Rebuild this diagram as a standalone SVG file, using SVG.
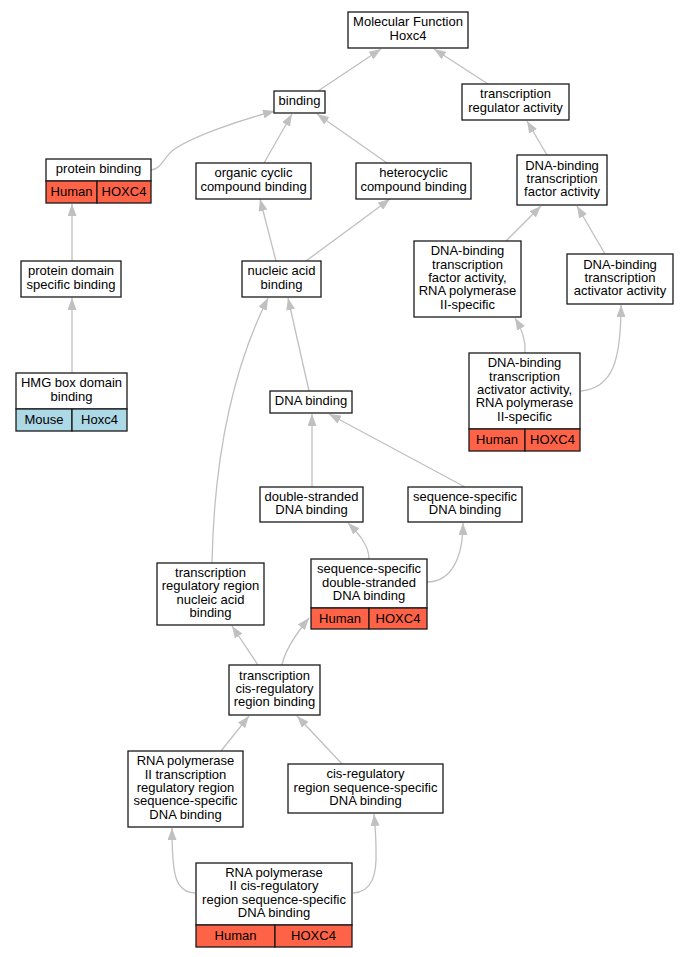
<svg xmlns="http://www.w3.org/2000/svg" width="689" height="957" viewBox="0 0 689 957">
<style>
.box{fill:#fff;stroke:#1a1a1a;stroke-width:1.3}
.hu{fill:#ff6347;stroke:#1a1a1a;stroke-width:1.3}
.mo{fill:#add8e6;stroke:#1a1a1a;stroke-width:1.3}
text{font-family:"Liberation Sans",Arial,sans-serif;font-size:13px;fill:#000;text-anchor:middle}
.e{fill:none;stroke:#c0c0c0;stroke-width:1.3;marker-end:url(#ah)}
</style>
<defs>
<marker id="ah" viewBox="0 0 12 9" refX="12" refY="4.5" markerWidth="12" markerHeight="9" markerUnits="userSpaceOnUse" orient="auto">
<path d="M0,0 L12,4.5 L0,9 z" fill="#c0c0c0"/>
</marker>
</defs>
<g id="connectors">
<path class="e" d="M318,91 L381,49"/>
<path class="e" d="M488,84 L434,49"/>
<path class="e" d="M151,170 C160,170 164,158 172,151 C190,137 240,120 275,111"/>
<path class="e" d="M264,163 L292,114"/>
<path class="e" d="M387,163 L317,114"/>
<path class="e" d="M547,155 L527,121"/>
<path class="e" d="M72,261 L72,204"/>
<path class="e" d="M276,261 L260,199"/>
<path class="e" d="M306,261 L390,199"/>
<path class="e" d="M506,241 L541,206"/>
<path class="e" d="M605,254 L577,206"/>
<path class="e" d="M72,373 L72,298"/>
<path class="e" d="M309,391 L288,298"/>
<path class="e" d="M212,563 C214,460 232,370 268,298"/>
<path class="e" d="M525,353 C526,340 522,330 515,318"/>
<path class="e" d="M581,391 C613,388 621,360 621,305"/>
<path class="e" d="M312,487 L312,414"/>
<path class="e" d="M465,487 L329,414"/>
<path class="e" d="M369,559 C369,545 358,533 348,523"/>
<path class="e" d="M427,582 C450,582 463,560 463,523"/>
<path class="e" d="M258,665 L232,626"/>
<path class="e" d="M282,665 C285,650 295,635 309,618"/>
<path class="e" d="M221,751 L249,716"/>
<path class="e" d="M342,764 L297,716"/>
<path class="e" d="M195,893 C175,892 172,875 172,828"/>
<path class="e" d="M353,893 C372,892 377,875 376,850 C376,835 375,825 374,814"/>
</g>
<g id="n_mf"><rect class="box" x="348" y="12" width="120" height="36"/><text x="408" y="26.4">Molecular Function</text><text x="408" y="39.7">Hoxc4</text></g>
<g id="n_binding"><rect class="box" x="274" y="91" width="51" height="22"/><text x="299.5" y="105">binding</text></g>
<g id="n_tra"><rect class="box" x="462" y="84" width="107" height="36"/><text x="515.5" y="98.4">transcription</text><text x="515.5" y="111.7">regulator activity</text></g>
<g id="n_pb"><rect class="box" x="46" y="159" width="105" height="22"/><rect class="hu" x="46" y="181" width="51" height="22"/><rect class="hu" x="97" y="181" width="54" height="22"/><text x="98.5" y="173">protein binding</text><text x="71.5" y="196">Human</text><text x="124" y="196">HOXC4</text></g>
<g id="n_occ"><rect class="box" x="196" y="163" width="115" height="36"/><text x="253.5" y="177.4">organic cyclic</text><text x="253.5" y="190.7">compound binding</text></g>
<g id="n_hcb"><rect class="box" x="356" y="163" width="115" height="36"/><text x="413.5" y="177.4">heterocyclic</text><text x="413.5" y="190.7">compound binding</text></g>
<g id="n_dbtfa"><rect class="box" x="517" y="155" width="90" height="50"/><text x="562" y="169.7">DNA-binding</text><text x="562" y="183">transcription</text><text x="562" y="196.3">factor activity</text></g>
<g id="n_pdsb"><rect class="box" x="21" y="261" width="100" height="36"/><text x="71" y="275.4">protein domain</text><text x="71" y="288.7">specific binding</text></g>
<g id="n_nab"><rect class="box" x="242" y="261" width="79" height="36"/><text x="281.5" y="275.4">nucleic acid</text><text x="281.5" y="288.7">binding</text></g>
<g id="n_hmg"><rect class="box" x="16" y="373" width="111" height="36"/><rect class="mo" x="16" y="409" width="56" height="22"/><rect class="mo" x="72" y="409" width="55" height="22"/><text x="71.5" y="387.4">HMG box domain</text><text x="71.5" y="400.7">binding</text><text x="44" y="424">Mouse</text><text x="99.5" y="424">Hoxc4</text></g>
<g id="n_dnab"><rect class="box" x="270" y="391" width="82" height="22"/><text x="311" y="405">DNA binding</text></g>
<g id="n_dbtfa2"><rect class="box" x="414" y="241" width="107" height="76"/><text x="467.5" y="255.4">DNA-binding</text><text x="467.5" y="268.7">transcription</text><text x="467.5" y="282">factor activity,</text><text x="467.5" y="295.3">RNA polymerase</text><text x="467.5" y="308.6">II-specific</text></g>
<g id="n_dbtaa"><rect class="box" x="567" y="254" width="106" height="50"/><text x="620" y="268.7">DNA-binding</text><text x="620" y="282">transcription</text><text x="620" y="295.3">activator activity</text></g>
<g id="n_dbtaa2"><rect class="box" x="469" y="353" width="111" height="76"/><rect class="hu" x="469" y="429" width="56" height="22"/><rect class="hu" x="525" y="429" width="55" height="22"/><text x="524.5" y="367.4">DNA-binding</text><text x="524.5" y="380.7">transcription</text><text x="524.5" y="394">activator activity,</text><text x="524.5" y="407.3">RNA polymerase</text><text x="524.5" y="420.6">II-specific</text><text x="497" y="444">Human</text><text x="552.5" y="444">HOXC4</text></g>
<g id="n_dsdb"><rect class="box" x="260" y="487" width="103" height="35"/><text x="311.5" y="500.9">double-stranded</text><text x="311.5" y="514.2">DNA binding</text></g>
<g id="n_ssdb"><rect class="box" x="408" y="487" width="114" height="35"/><text x="465" y="500.9">sequence-specific</text><text x="465" y="514.2">DNA binding</text></g>
<g id="n_trrnab"><rect class="box" x="157" y="563" width="107" height="62"/><text x="210.5" y="577.1">transcription</text><text x="210.5" y="590.4">regulatory region</text><text x="210.5" y="603.7">nucleic acid</text><text x="210.5" y="617">binding</text></g>
<g id="n_ssdsdb"><rect class="box" x="311" y="559" width="116" height="49"/><rect class="hu" x="311" y="608" width="58" height="21"/><rect class="hu" x="369" y="608" width="58" height="21"/><text x="369" y="573.2">sequence-specific</text><text x="369" y="586.5">double-stranded</text><text x="369" y="599.8">DNA binding</text><text x="340" y="622.5">Human</text><text x="398" y="622.5">HOXC4</text></g>
<g id="n_tcrrb"><rect class="box" x="229" y="665" width="91" height="50"/><text x="274.5" y="679.7">transcription</text><text x="274.5" y="693">cis-regulatory</text><text x="274.5" y="706.3">region binding</text></g>
<g id="n_rnap2trr"><rect class="box" x="128" y="751" width="115" height="76"/><text x="185.5" y="765.4">RNA polymerase</text><text x="185.5" y="778.7">II transcription</text><text x="185.5" y="792">regulatory region</text><text x="185.5" y="805.3">sequence-specific</text><text x="185.5" y="818.6">DNA binding</text></g>
<g id="n_crrssdb"><rect class="box" x="288" y="764" width="155" height="49"/><text x="365.5" y="778.2">cis-regulatory</text><text x="365.5" y="791.5">region sequence-specific</text><text x="365.5" y="804.8">DNA binding</text></g>
<g id="n_rnap2cr"><rect class="box" x="196" y="863" width="156" height="62"/><rect class="hu" x="196" y="925" width="79" height="22"/><rect class="hu" x="275" y="925" width="77" height="22"/><text x="274" y="877.1">RNA polymerase</text><text x="274" y="890.4">II cis-regulatory</text><text x="274" y="903.7">region sequence-specific</text><text x="274" y="917">DNA binding</text><text x="235.5" y="940">Human</text><text x="313.5" y="940">HOXC4</text></g>
</svg>
